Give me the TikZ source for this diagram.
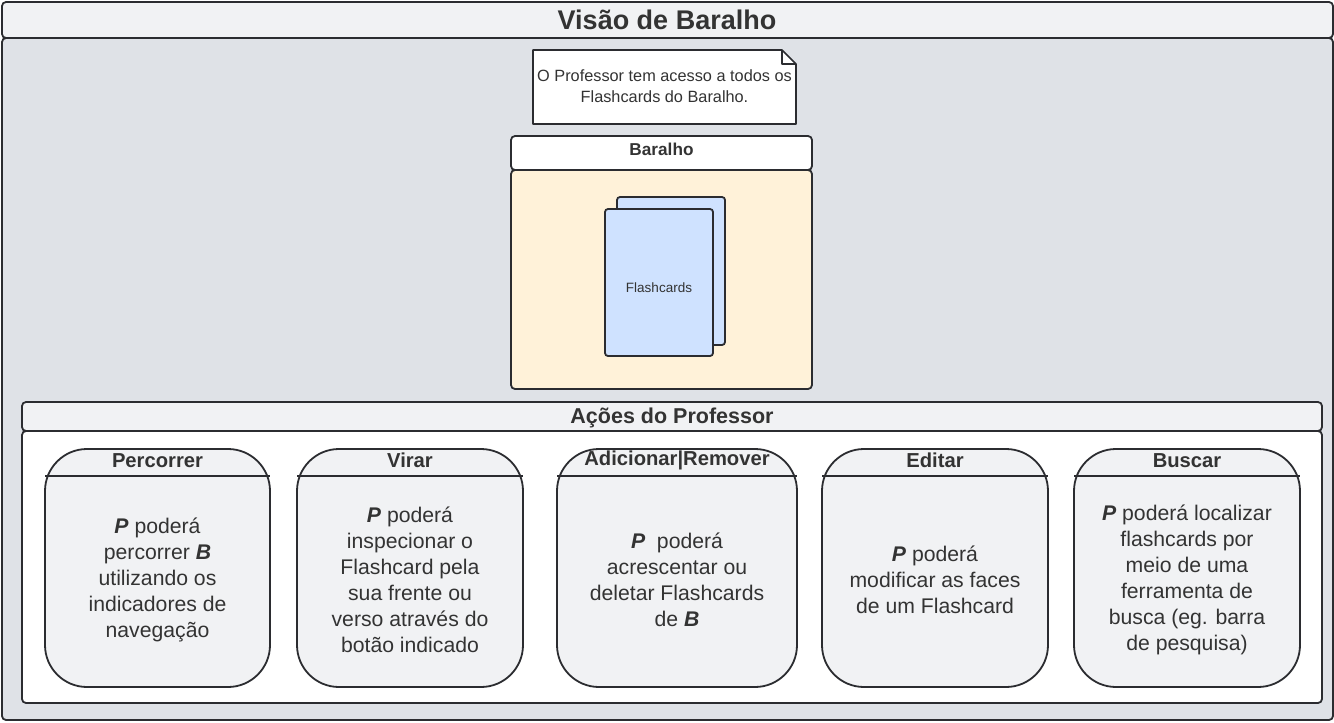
\documentclass[tikz,border=0pt]{standalone}
\usepackage{fontspec}
\setmainfont{Liberation Sans}
\definecolor{txt}{HTML}{333333}
\definecolor{edge}{HTML}{2B2C30}
\definecolor{barfill}{HTML}{F1F2F4}
\definecolor{bodyfill}{HTML}{DFE2E7}
\definecolor{cream}{HTML}{FFF2D9}
\definecolor{cardblue}{HTML}{CFE2FF}
\definecolor{statefill}{HTML}{F1F2F4}
\begin{document}
\begin{tikzpicture}[x=1pt,y=-1pt,
  frame/.style={draw=edge, line width=1.8pt, rounded corners=4pt},
  statebox/.style={draw=edge, line width=1.8pt, fill=statefill, rounded corners=42pt},
  sep/.style={draw=edge, line width=1.6pt},
  lbl/.style={text=txt, inner sep=0pt, align=center},
  bodytxt/.style={lbl, font=\fontsize{21.2}{26}\selectfont},
  ttl/.style={lbl, font=\fontsize{20.2}{24}\selectfont\bfseries},
]
\useasboundingbox (0,0) rectangle (1334,723);

% outer frame
\draw[frame, fill=bodyfill] (2,38) rectangle (1333,720);
\draw[frame, fill=barfill] (2,2) rectangle (1333,38);
\node[lbl, font=\fontsize{27}{32}\selectfont\bfseries] (title) at (667,20) {Visão de Baralho};

% note
\draw[draw=edge, line width=1.6pt, fill=white, line join=round]
  (533,50) -- (782,50) -- (796,64) -- (796,124) -- (533,124) -- cycle;
\draw[draw=edge, line width=1.4pt, line join=round] (782,50) -- (782,64) -- (796,64);
\node[lbl, font=\fontsize{16.3}{21}\selectfont] (note) at (664.5,86)
  {O Professor tem acesso a todos os\\Flashcards do Baralho.};

% Baralho container
\draw[frame, fill=white] (511,136) rectangle (812,170);
\draw[frame, fill=cream] (511,170) rectangle (812,389);
\node[lbl, font=\fontsize{17.2}{20}\selectfont\bfseries] (baralho) at (661.5,149.5) {Baralho};

% flashcards
\draw[draw=edge, line width=1.8pt, fill=cardblue, rounded corners=3pt] (617,197) rectangle (725,345);
\draw[draw=edge, line width=1.8pt, fill=cardblue, rounded corners=3pt] (605,209) rectangle (713,356);
\node[lbl, font=\fontsize{13.5}{16}\selectfont] (flash) at (659,288) {Flashcards};

% Acoes container
\draw[frame, fill=barfill] (22,402) rectangle (1322,431);
\draw[frame, fill=white] (22,431) rectangle (1322,703);
\node[lbl, font=\fontsize{21.5}{25}\selectfont\bfseries] (acoes) at (672,418) {Ações do Professor};

% state cards
\draw[statebox] (45,449) rectangle (270,687);
\draw[sep] (45,476) -- (270,476);
\node[ttl] (t1) at (157.5,460.5) {Percorrer};
\node[bodytxt] (b1) at (157.5,580) {\textbf{\textit{P}} poderá\\percorrer \textbf{\textit{B}}\\utilizando os\\indicadores de\\navegação};

\draw[statebox] (297,449) rectangle (523,687);
\draw[sep] (297,476) -- (523,476);
\node[ttl] (t2) at (410,460.5) {Virar};
\node[bodytxt] (b2) at (410,580) {\textbf{\textit{P}} poderá\\inspecionar o\\Flashcard pela\\sua frente ou\\verso através do\\botão indicado};

\draw[statebox] (557,449) rectangle (797,687);
\draw[sep] (557,476) -- (797,476);
\node[ttl] (t3) at (677,460.5) {Adicionar|Remover};
\node[bodytxt] (b3) at (677,580) {\textbf{\textit{P}}\ \ poderá\\acrescentar ou\\deletar Flashcards\\de \textbf{\textit{B}}};

\draw[statebox] (822,449) rectangle (1048,687);
\draw[sep] (822,476) -- (1048,476);
\node[ttl] (t4) at (935,460.5) {Editar};
\node[bodytxt] (b4) at (935,580) {\textbf{\textit{P}} poderá\\modificar as faces\\de um Flashcard};

\draw[statebox] (1074,449) rectangle (1300,687);
\draw[sep] (1074,476) -- (1300,476);
\node[ttl] (t5) at (1187,460.5) {Buscar};
\node[bodytxt] (b5) at (1187,580) {\textbf{\textit{P}} poderá localizar\\flashcards por\\meio de uma\\ferramenta de\\busca (eg. barra\\de pesquisa)};
\end{tikzpicture}
\end{document}
